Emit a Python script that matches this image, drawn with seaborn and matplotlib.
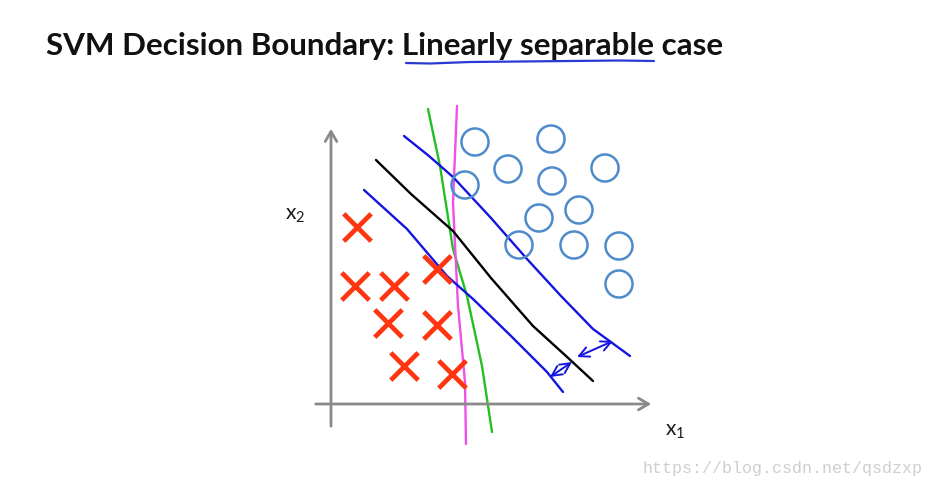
import matplotlib
matplotlib.use("Agg")
import matplotlib.pyplot as plt
import seaborn as sns
import pandas as pd

# -----------------------------
# Datos (unidades del dibujo: origen en el cruce de los ejes)
# -----------------------------
cross_x = [2.6, 2.4, 6.3, 10.6, 5.7, 10.6, 7.3, 12.1]
cross_y = [17.7, 11.8, 11.8, 13.5, 8.1, 7.9, 3.8, 3.0]

circle_x = [14.4, 22.0, 17.7, 27.4, 13.4, 22.1, 20.8, 24.8, 18.8, 24.3, 28.8, 28.8]
circle_y = [26.2, 26.5, 23.5, 23.6, 21.9, 22.3, 18.6, 19.4, 15.9, 15.9, 15.8, 12.0]

# frontera de decisión (negra) y márgenes (azules)
black_x = [4.5, 8.0, 12.2, 16.0, 20.2, 23.5, 26.2]
black_y = [24.4, 21.0, 17.3, 12.6, 7.8, 4.8, 2.3]
upper_x = [7.3, 9.8, 12.2, 16.0, 19.6, 23.0, 26.2, 29.9]
upper_y = [26.8, 24.8, 22.7, 18.6, 14.5, 10.8, 7.5, 4.8]
lower_x = [3.3, 7.6, 11.6, 14.2, 18.0, 21.6, 23.2]
lower_y = [21.4, 17.5, 12.8, 10.5, 6.8, 3.2, 1.2]

# otras fronteras posibles
green_x = [9.7, 10.9, 12.2, 13.6, 15.1, 16.1]
green_y = [29.5, 23.8, 15.5, 10.8, 3.8, -2.8]
magenta_x = [12.6, 12.2, 12.2, 12.7, 13.4, 13.5]
magenta_y = [29.8, 23.8, 16.5, 9.8, 2.2, -4.0]

# flechas del margen
margin_start = [(21.9, 2.7), (24.6, 4.7)]
margin_end = [(24.1, 4.2), (28.2, 6.3)]

title = "SVM Decision Boundary: Linearly separable case"
watermark = "https://blog.csdn.net/qsdzxp"

# -----------------------------
# Figura
# -----------------------------
sns.set_theme(style="white")
plt.rcParams["font.family"] = ["Lato", "DejaVu Sans"]
plt.rcParams["mathtext.fontset"] = "custom"
plt.rcParams["mathtext.rm"] = "Lato"
plt.rcParams["mathtext.it"] = "Lato"

fig = plt.figure(figsize=(9.35, 4.89), dpi=100)
ax = fig.add_axes([0, 0, 1, 1])
ax.set_xlim(-33.1, 60.4)
ax.set_ylim(-8.4, 40.5)
ax.axis("off")

# ejes dibujados a mano
axis_color = "#8a8a8a"
ax.annotate("", xy=(32.3, 0), xytext=(-1.8, 0),
            arrowprops=dict(arrowstyle="->,head_length=0.6,head_width=0.35",
                            color=axis_color, lw=2))
ax.annotate("", xy=(0, 27.8), xytext=(0, -2.5),
            arrowprops=dict(arrowstyle="->,head_length=0.6,head_width=0.35",
                            color=axis_color, lw=2))

# líneas
lines = [
    (green_x, green_y, "#22c022"),
    (magenta_x, magenta_y, "#f050e8"),
    (upper_x, upper_y, "#1414e0"),
    (lower_x, lower_y, "#1414e0"),
    (black_x, black_y, "#000000"),
]
for xs, ys, c in lines:
    df = pd.DataFrame({"x": xs, "y": ys})
    sns.lineplot(data=df, x="x", y="y", sort=False, color=c, lw=1.7, ax=ax)

# puntos
sns.scatterplot(x=cross_x, y=cross_y, marker="x", s=390, color="#ff3410",
                linewidth=3.4, ax=ax, zorder=3)
sns.scatterplot(x=circle_x, y=circle_y, marker="o", s=380, facecolor="none",
                edgecolor="#4f8bcb", linewidth=1.8, ax=ax, zorder=3)

# flechas de margen
for (x0, y0), (x1, y1) in zip(margin_start, margin_end):
    ax.annotate("", xy=(x1, y1), xytext=(x0, y0),
                arrowprops=dict(arrowstyle="<->,head_length=0.6,head_width=0.3",
                                color="#1414e0", lw=1.4, shrinkA=0, shrinkB=0))

ax.set_xlabel("")
ax.set_ylabel("")

# textos
fig.text(46 / 935, 1 - 55 / 489, title, fontsize=22.6, fontweight="bold",
         color="#111111", va="baseline", ha="left")
fig.text(285 / 935, 1 - 220 / 489, r"x$_2$", fontsize=15, color="#1a1a1a",
         va="baseline", ha="left")
fig.text(665 / 935, 1 - 436 / 489, r"x$_1$", fontsize=15, color="#1a1a1a",
         va="baseline", ha="left")
fig.text(643 / 935, 1 - 473 / 489, watermark, fontsize=12,
         family="Liberation Mono", color="#cfcfcf", va="baseline", ha="left")

# subrayado azul del título
ul_x = [406, 430, 470, 520, 570, 620, 654]
ul_y = [64, 64.5, 63, 62.5, 62, 61.5, 62]
fig.add_artist(plt.Line2D([v / 935 for v in ul_x], [1 - v / 489 for v in ul_y],
                          color="#2a3ad0", lw=1.6, transform=fig.transFigure))

fig.savefig("out.png", dpi=100)
plt.close(fig)
